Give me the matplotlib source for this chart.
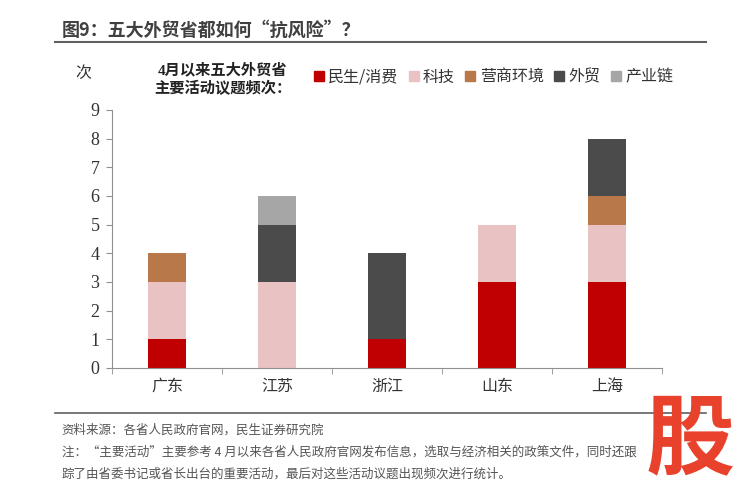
import matplotlib.pyplot as plt
from matplotlib.lines import Line2D
import numpy as np

# 各省主要活动议题频次
provinces = ["广东", "江苏", "浙江", "山东", "上海"]
topics = ["民生/消费", "科技", "营商环境", "外贸", "产业链"]
minsheng = [1, 0, 1, 3, 3]
keji = [2, 3, 0, 2, 2]
yingshang = [1, 0, 0, 0, 1]
waimao = [0, 2, 3, 0, 2]
chanye = [0, 1, 0, 0, 0]
colors = ["#C00000", "#E9C3C3", "#B9784A", "#4B4B4B", "#A6A6A6"]

plt.rcParams['font.family'] = ['Liberation Serif', 'Noto Sans CJK SC', 'DejaVu Sans']

fig = plt.figure(figsize=(7.54, 4.97), dpi=100)
ax = fig.add_axes([0.1485, 0.2596, 0.7295, 0.5191])

x = np.arange(len(provinces))
bottom = np.zeros(len(provinces))
for vals, c in zip([minsheng, keji, yingshang, waimao, chanye], colors):
    ax.bar(x, vals, bottom=bottom, width=0.34, color=c, linewidth=0)
    bottom += np.array(vals)

ax.set_xlim(-0.5, 4.5)
ax.set_ylim(0, 9)
ax.set_yticks(range(10))
ax.set_yticklabels([str(i) for i in range(10)], fontsize=13, family=['Liberation Serif'])
ax.set_xticks(x)
ax.set_xticklabels(provinces, fontsize=11.5, family=['Noto Sans CJK SC'], color="#333333")
ax.set_xticks(np.arange(-0.5, 5, 1), minor=True)
ax.tick_params(axis='x', which='major', length=0, pad=7)
ax.tick_params(axis='x', which='minor', length=4, color="#909090", direction='out')
ax.tick_params(axis='y', length=4, color="#909090", labelcolor="#333333", pad=5)
for s in ["top", "right"]:
    ax.spines[s].set_visible(False)
for s in ["left", "bottom"]:
    ax.spines[s].set_color("#909090")

# 标题和横线
fig.text(0.082, 0.94, "图9：五大外贸省都如何“抗风险”？", fontsize=13, fontweight='bold',
         color="#404040", family=['Noto Sans CJK SC'], va='center')
fig.add_artist(Line2D([0.073, 0.937], [0.915, 0.915], color="#606060", lw=1.5))

fig.text(0.1, 0.853, "次", fontsize=11.5, color="#333333", family=['Noto Sans CJK SC'], va='center')
fig.text(0.295, 0.84, "4月以来五大外贸省\n主要活动议题频次：", fontsize=11, fontweight='bold',
         color="#222222", ha='center', va='center', linespacing=1.3)

handles = [Line2D([], [], marker='s', linestyle='none', markersize=7, color=c) for c in colors]
leg = fig.legend(handles, topics, loc='center left', bbox_to_anchor=(0.397, 0.845), ncol=5,
                 frameon=False, handlelength=0.6, handletextpad=0.3, columnspacing=0.65,
                 prop={'family': ['Noto Sans CJK SC'], 'size': 11.5})
for t in leg.get_texts():
    t.set_color("#333333")

# 底部说明
fig.add_artist(Line2D([0.073, 0.937], [0.169, 0.169], color="#606060", lw=1.2))
notes = ["资料来源：各省人民政府官网，民生证券研究院",
         "注：“主要活动”主要参考 4 月以来各省人民政府官网发布信息，选取与经济相关的政策文件，同时还跟",
         "踪了由省委书记或省长出台的重要活动，最后对这些活动议题出现频次进行统计。"]
for i, s in enumerate(notes):
    fig.text(0.082, 0.135 - i * 0.044, s, fontsize=9, color="#555555",
             family=['Noto Sans CJK SC'], va='center')

fig.text(0.915, 0.112, "股", fontsize=64, fontweight='heavy', color="#E8412C",
         family=['Noto Sans CJK SC'], ha='center', va='center')

fig.savefig("out.png", dpi=100)
